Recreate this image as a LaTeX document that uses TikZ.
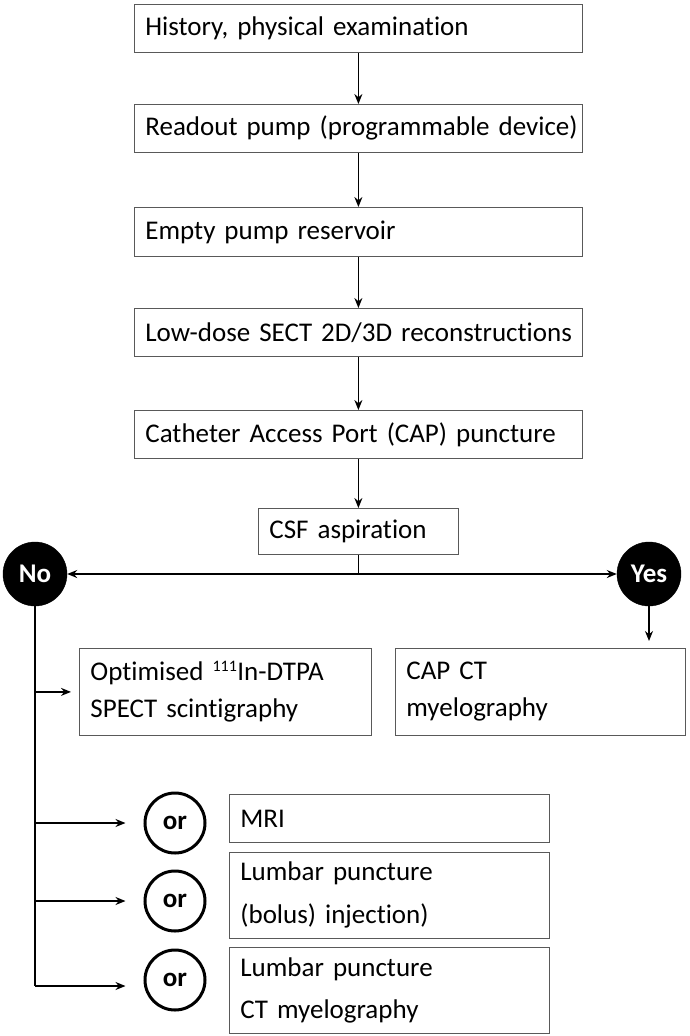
\documentclass[tikz,border=0pt]{standalone}
\usepackage{fontspec}
\setmainfont{Carlito}[Ligatures=NoCommon, WordSpace=0.7]
\usetikzlibrary{arrows.meta,calc}
\newcommand\oneline[1]{\mbox{#1}}
\begin{document}
\begin{tikzpicture}[x=1pt,y=-1pt,
  box/.style={draw=black!65, line width=0.8pt, rectangle, inner xsep=11pt, inner ysep=0pt, align=left, anchor=north west, font=\fontsize{27}{38}\selectfont},
  dot/.style={circle, fill=black, draw=black, minimum size=64pt, inner sep=0pt, text=white, font=\fontsize{27}{28}\selectfont\bfseries},
  orc/.style={circle, draw=black, line width=3pt, minimum size=60pt, inner sep=0pt, font=\fontsize{27}{28}\selectfont\bfseries},
  arr/.style={-{Stealth[length=10pt,width=8pt]}, line width=1.4pt},
  ln/.style={line width=1.4pt}
]
\useasboundingbox (0,0) rectangle (689,1036);
% top chain
\node[box, text width=426pt, minimum height=48pt] (b1) at (134,4) {\oneline{History, physical examination}};
\node[box, text width=426pt, minimum height=48pt] (b2) at (134,104) {\oneline{Readout pump (programmable device)}};
\node[box, text width=426pt, minimum height=49pt] (b3) at (134,207) {\oneline{Empty pump reservoir}};
\node[box, text width=426pt, minimum height=48pt] (b4) at (134,308) {\oneline{Low-dose SECT 2D/3D reconstructions}};
\node[box, text width=426pt, minimum height=48pt] (b5) at (134,410) {\oneline{Catheter Access Port (CAP) puncture}};
\node[box, text width=178pt, minimum height=46pt] (csf) at (258,508) {\oneline{CSF aspiration}};
\draw[arr] (b1) -- (b2);
\draw[arr] (b2) -- (b3);
\draw[arr] (b3) -- (b4);
\draw[arr] (b4) -- (b5);
\draw[arr] (b5.south -| csf.north) -- (csf.north);
% yes/no
\node[dot] (no) at (35,574) {No};
\node[dot] (yes) at (649,574) {Yes};
\draw[ln, {Stealth[length=10pt,width=8pt]}-{Stealth[length=10pt,width=8pt]}] (no.east) -- (yes.west);
\draw[ln] (csf.south) -- (csf.south |- no.east);
% result boxes
\node[box, text width=270pt, minimum height=87pt, font=\fontsize{27}{37}\selectfont] (opt) at (79,648) {\oneline{Optimised \textsuperscript{\fontsize{16}{16}\selectfont 111}In-DTPA}\\\oneline{SPECT scintigraphy}};
\node[box, text width=268pt, minimum height=87pt, font=\fontsize{27}{37}\selectfont] (cap) at (395,648) {CAP CT\\myelography};
\draw[arr] (yes.south) -- ($(yes |- cap.north)+(0,-7)$);
% or circles
\node[orc] (or1) at (175,823) {or};
\node[orc] (or2) at (175,901) {or};
\node[orc] (or3) at (175,980) {or};
\node[box, text width=298pt, minimum height=48pt] (mri) at (229,794) {MRI};
\node[box, text width=298pt, minimum height=86pt, font=\fontsize{27}{43}\selectfont] (lp1) at (229,852) {\oneline{Lumbar puncture}\\\oneline{(bolus) injection)}};
\node[box, text width=298pt, minimum height=86pt, font=\fontsize{27}{42}\selectfont] (lp2) at (229,947) {\oneline{Lumbar puncture}\\\oneline{CT myelography}};
% No branch
\coordinate (nend) at (35,986);
\draw[ln] (no.south) -- (nend);
\draw[arr] (no |- opt.west) -- ($(opt.west)+(-8,0)$);
\draw[arr] (no |- or1) -- ($(or1.west)+(-18,0)$);
\draw[arr] (no |- or2) -- ($(or2.west)+(-18,0)$);
\draw[arr] (nend) -- ($(nend -| or3.west)+(-18,0)$);
\end{tikzpicture}
\end{document}
